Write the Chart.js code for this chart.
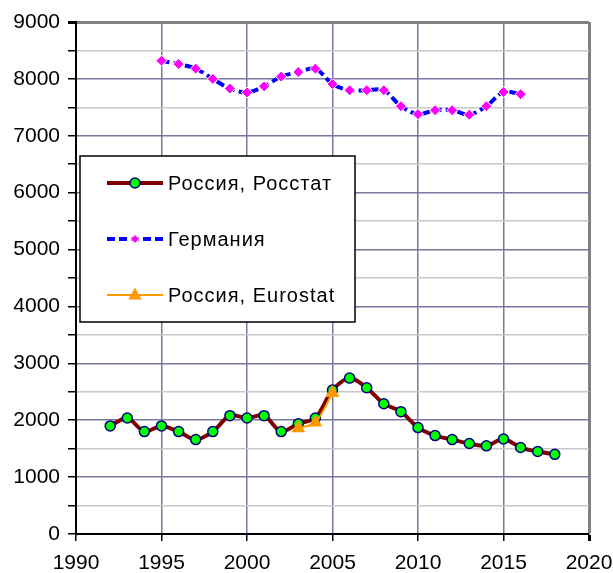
<!DOCTYPE html>
<html>
<head>
<meta charset="utf-8">
<script src="https://cdn.jsdelivr.net/npm/chart.js@4/dist/chart.umd.min.js"></script>
<style>
  body { margin: 0; background: #fff; }
  #wrap { width: 613px; height: 573px; position: relative; }
</style>
</head>
<body>
<div id="wrap"><canvas id="myChart"></canvas></div>
<script>
'use strict';

const rosstatYears = [1992, 1993, 1994, 1995, 1996, 1997, 1998, 1999, 2000, 2001, 2002, 2003, 2004, 2005,
  2006, 2007, 2008, 2009, 2010, 2011, 2012, 2013, 2014, 2015, 2016, 2017, 2018];
const rosstatValues = [1900, 2040, 1800, 1900, 1800, 1660, 1800, 2080, 2040, 2080, 1800, 1940, 2040, 2530,
  2740, 2570, 2290, 2150, 1870, 1730, 1660, 1590, 1550, 1670, 1520, 1450, 1400];

const germanyYears = [1995, 1996, 1997, 1998, 1999, 2000, 2001, 2002, 2003, 2004, 2005, 2006, 2007, 2008,
  2009, 2010, 2011, 2012, 2013, 2014, 2015, 2016];
const germanyValues = [8320, 8260, 8180, 8000, 7830, 7760, 7870, 8040, 8120, 8180, 7910, 7800, 7800, 7800,
  7520, 7380, 7450, 7450, 7370, 7520, 7770, 7730];

const eurostatYears = [2003, 2004, 2005];
const eurostatValues = [1860, 1960, 2480];

const seriesNames = ['Россия, Росстат', 'Германия', 'Россия, Eurostat'];

function toPoints(xs, ys) {
  return xs.map((x, i) => ({ x: x, y: ys[i] }));
}

const majorGrid = '#7878a0';
const minorGrid = '#c8c8c8';
const fontFamily = '"Liberation Sans", Arial, sans-serif';

// legend sits inside the plot with a black frame, drawn by hand
const legendMarkerSize = [5, 4.5, 7.5];

const boxLegend = {
  id: 'boxLegend',
  afterDraw(chart) {
    const ctx = chart.ctx;
    const left = 80, top = 156, right = 355, bottom = 322;
    ctx.save();
    ctx.fillStyle = '#fff';
    ctx.fillRect(left, top, right - left, bottom - top);
    ctx.strokeStyle = '#000';
    ctx.lineWidth = 1.5;
    ctx.strokeRect(left, top, right - left, bottom - top);

    const rows = [183, 239, 295];
    chart.data.datasets.forEach((ds, i) => {
      const y = rows[i];
      const cx = 135;
      const r = legendMarkerSize[i];
      ctx.strokeStyle = ds.borderColor;
      ctx.lineWidth = ds.borderWidth;
      ctx.setLineDash(ds.borderDash || []);
      ctx.beginPath();
      ctx.moveTo(107, y);
      ctx.lineTo(163, y);
      ctx.stroke();
      ctx.setLineDash([]);

      ctx.fillStyle = ds.pointBackgroundColor;
      ctx.strokeStyle = ds.pointBorderColor;
      ctx.lineWidth = ds.pointBorderWidth;
      ctx.beginPath();
      if (ds.pointStyle === 'circle') {
        ctx.arc(cx, y, r, 0, Math.PI * 2);
      } else if (ds.pointStyle === 'rectRot') {
        ctx.moveTo(cx, y - r); ctx.lineTo(cx + r, y); ctx.lineTo(cx, y + r); ctx.lineTo(cx - r, y);
        ctx.closePath();
      } else {
        ctx.moveTo(cx, y - r); ctx.lineTo(cx + r * 0.9, y + r * 0.6); ctx.lineTo(cx - r * 0.9, y + r * 0.6);
        ctx.closePath();
      }
      ctx.fill();
      if (ds.pointBorderWidth > 0) ctx.stroke();

      ctx.fillStyle = '#000';
      ctx.font = '20px ' + fontFamily;
      ctx.letterSpacing = '1px';
      ctx.textBaseline = 'middle';
      ctx.fillText(ds.label, 168, y + 1);
      ctx.letterSpacing = '0px';
    });
    ctx.restore();
  }
};

const config = {
  type: 'line',
  data: {
    datasets: [
      {
        label: seriesNames[0],
        data: toPoints(rosstatYears, rosstatValues),
        borderColor: '#800000',
        borderWidth: 4,
        tension: 0.3,
        pointStyle: 'circle',
        pointRadius: 5,
        pointBackgroundColor: '#00ff00',
        pointBorderColor: '#000080',
        pointBorderWidth: 1.5,
        order: 2
      },
      {
        label: seriesNames[1],
        data: toPoints(germanyYears, germanyValues),
        borderColor: '#0000ff',
        borderWidth: 4,
        borderDash: [8, 4],
        tension: 0.3,
        pointStyle: 'rectRot',
        pointRadius: 5.5,
        pointBackgroundColor: '#ff00ff',
        pointBorderColor: '#ffffff',
        pointBorderWidth: 1,
        order: 1
      },
      {
        label: seriesNames[2],
        data: toPoints(eurostatYears, eurostatValues),
        borderColor: '#ff9900',
        borderWidth: 2,
        tension: 0.3,
        pointStyle: 'triangle',
        pointRadius: 8,
        pointBackgroundColor: '#ff9900',
        pointBorderColor: '#ff9900',
        pointBorderWidth: 0,
        order: 0
      }
    ]
  },
  options: {
    responsive: true,
    maintainAspectRatio: false,
    animation: false,
    layout: { padding: { top: 22, right: 24, left: 0, bottom: 0 } },
    plugins: {
      legend: { display: false },
      tooltip: { enabled: false }
    },
    scales: {
      x: {
        type: 'linear',
        min: 1990,
        max: 2020,
        afterFit: (s) => {
          s.height = 39;
          s.paddingLeft = 0;
          s.paddingRight = 0;
        },
        ticks: {
          stepSize: 5,
          color: '#000',
          padding: 10,
          font: { family: fontFamily, size: 21 },
          callback: (v) => String(v)
        },
        grid: {
          color: (c) => (c.tick && c.tick.value === 2020 ? '#808080' : majorGrid),
          lineWidth: (c) => (c.tick && c.tick.value === 2020 ? 3 : 1.5),
          tickColor: '#000',
          tickLength: 7
        },
        border: { color: '#000', width: 2 }
      },
      y: {
        min: 0,
        max: 9000,
        afterFit: (s) => { s.width = 76; },
        ticks: {
          stepSize: 500,
          color: '#000',
          padding: 8,
          font: { family: fontFamily, size: 21 },
          callback: (v) => (v % 1000 === 0 ? String(v) : '')
        },
        grid: {
          color: (c) => {
            const v = c.tick ? c.tick.value : 0;
            if (v === 9000) return '#808080';
            return v % 1000 === 0 ? majorGrid : minorGrid;
          },
          lineWidth: (c) => (c.tick && c.tick.value === 9000 ? 3 : 1.5),
          tickColor: '#000',
          tickLength: 8
        },
        border: { color: '#000', width: 2 }
      }
    }
  },
  plugins: [boxLegend]
};

const myChart = new Chart(document.getElementById('myChart').getContext('2d'), config);
</script>
</body>
</html>
